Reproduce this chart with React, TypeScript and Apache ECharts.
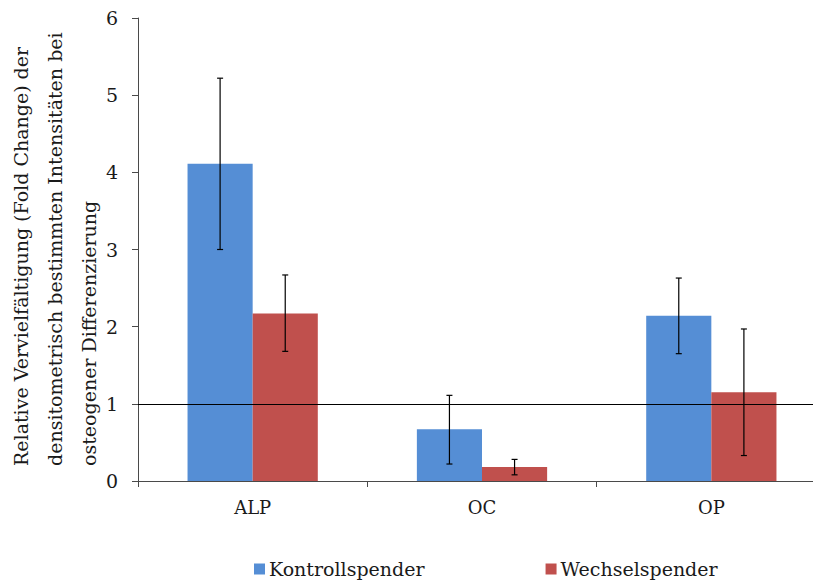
import React, { useEffect, useRef } from "react";
import * as echarts from "echarts";

const categories = ["ALP", "OC", "OP"];
const seriesNames = ["Kontrollspender", "Wechselspender"];
const kontrollValues = [4.11, 0.67, 2.14];
const kontrollLow = [3.0, 0.22, 1.65];
const kontrollHigh = [5.22, 1.11, 2.63];
const wechselValues = [2.17, 0.18, 1.15];
const wechselLow = [1.68, 0.08, 0.33];
const wechselHigh = [2.67, 0.28, 1.97];
const yTicks = [0, 1, 2, 3, 4, 5, 6];
const titleLines = [
  "Relative Vervielfältigung (Fold Change) der",
  "densitometrisch bestimmten Intensitäten bei",
  "osteogener Differenzierung",
];

const FONT = "DejaVu Serif";
const BAR_FRAC = 0.284;

function errorSeries(low: number[], high: number[], side: number) {
  return {
    type: "custom",
    silent: true,
    z: 5,
    data: low.map((l, i) => [i, l, high[i]]),
    encode: { x: 0, y: [1, 2] },
    renderItem: (params: any, api: any) => {
      const band = api.size([1, 0])[0];
      const off = side * band * BAR_FRAC * 0.5;
      const p1 = api.coord([api.value(0), api.value(1)]);
      const p2 = api.coord([api.value(0), api.value(2)]);
      const x = p1[0] + off;
      const cap = 3;
      const style = { stroke: "#000", lineWidth: 1.2 };
      return {
        type: "group",
        children: [
          { type: "line", shape: { x1: x, y1: p1[1], x2: x, y2: p2[1] }, style },
          { type: "line", shape: { x1: x - cap, y1: p1[1], x2: x + cap, y2: p1[1] }, style },
          { type: "line", shape: { x1: x - cap, y1: p2[1], x2: x + cap, y2: p2[1] }, style },
        ],
      };
    },
  };
}

export default function App() {
  const ref = useRef<HTMLDivElement>(null);
  useEffect(() => {
    if (!ref.current) return;
    const chart = echarts.init(ref.current, undefined, { renderer: "svg" });
    chart.setOption({
      animation: false,
      backgroundColor: "#fff",
      grid: {
        left: 138,
        width: 688,
        top: 18,
        bottom: 99,
        containLabel: false,
        outerBoundsMode: "none",
      },
      legend: {
        data: seriesNames,
        left: 254,
        top: 559,
        padding: 0,
        icon: "rect",
        itemWidth: 11,
        itemHeight: 11,
        itemGap: 121,
        textStyle: {
          fontFamily: FONT,
          fontSize: 19,
          lineHeight: 20,
          color: "#1a1a1a",
          padding: [0, 0, 0, -1],
        },
      },
      xAxis: {
        type: "category",
        data: categories,
        axisLine: { show: true, lineStyle: { color: "#4a4a4a", width: 1 } },
        axisTick: { show: true, length: 6, lineStyle: { color: "#4a4a4a" } },
        axisLabel: { fontFamily: FONT, fontSize: 18, color: "#1a1a1a", margin: 17 },
      },
      yAxis: {
        type: "value",
        min: 0,
        max: 6,
        interval: 1,
        axisLine: { show: true, lineStyle: { color: "#4a4a4a", width: 1 } },
        axisTick: { show: true, length: 6, lineStyle: { color: "#4a4a4a" } },
        splitLine: { show: false },
        axisLabel: {
          fontFamily: FONT,
          fontSize: 19,
          color: "#1a1a1a",
          margin: 20,
          formatter: (v: number) => (yTicks.includes(v) ? String(v) : ""),
        },
      },
      series: [
        {
          name: seriesNames[0],
          type: "bar",
          data: kontrollValues,
          barWidth: BAR_FRAC * 100 + "%",
          barGap: "0%",
          itemStyle: { color: "#558ED5" },
          markLine: {
            silent: true,
            symbol: "none",
            label: { show: false },
            lineStyle: { color: "#000", width: 1, type: "solid" },
            data: [{ yAxis: 1 }],
            z: 4,
          },
        },
        {
          name: seriesNames[1],
          type: "bar",
          data: wechselValues,
          barWidth: BAR_FRAC * 100 + "%",
          barGap: "0%",
          itemStyle: { color: "#C0504D" },
        },
        errorSeries(kontrollLow, kontrollHigh, -1),
        errorSeries(wechselLow, wechselHigh, 1),
      ],
      graphic: titleLines.map((t, i) => ({
        type: "text",
        x: 21 + i * 34,
        y: 466,
        rotation: Math.PI / 2,
        style: {
          text: t,
          fontFamily: FONT,
          fontSize: 19,
          fill: "#1a1a1a",
          align: "left",
          verticalAlign: "middle",
        },
      })),
    });
    return () => chart.dispose();
  }, []);
  return <div ref={ref} style={{ width: 813, height: 580, position: "absolute", left: 0, top: 0 }} />;
}
